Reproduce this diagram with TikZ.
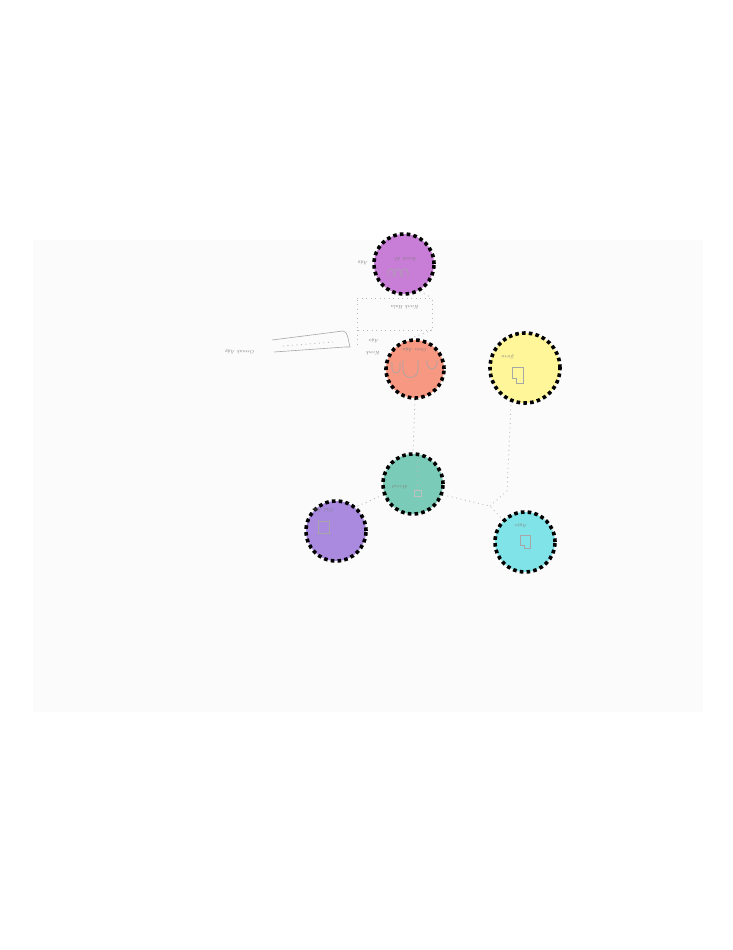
\documentclass[tikz,border=0pt]{standalone}
\begin{document}
\begin{tikzpicture}[x=1pt,y=-1pt,
  person/.style={circle,draw=black,line width=3.6pt,dash pattern=on 3.6pt off 3.2pt,inner sep=0pt,minimum size=#1},
  link/.style={draw=black!28,line width=0.8pt,dash pattern=on 1pt off 3.5pt},
  pencil/.style={draw=black!35,line width=0.6pt},
  hand/.style={text=black!50,font=\tiny\itshape,rotate=180,inner sep=0pt}]
\useasboundingbox (0,0) rectangle (732,950);
\fill[white] (0,0) rectangle (732,950);
\fill[black!1.5] (33,240) rectangle (703,712);

% persons
\node[person=60pt,fill={rgb,255:red,200;green,125;blue,214}] (gm) at (404,264) {};
\node[person=58pt,fill={rgb,255:red,246;green,152;blue,130}] (fa) at (415,369) {};
\node[person=70pt,fill={rgb,255:red,255;green,246;blue,154}] (mo) at (525,368) {};
\node[person=60pt,fill={rgb,255:red,122;green,204;blue,184}] (me) at (413,484) {};
\node[person=60pt,fill={rgb,255:red,170;green,138;blue,222}] (s1) at (336,531) {};
\node[person=60pt,fill={rgb,255:red,128;green,227;blue,232}] (s2) at (525,542) {};

% connectors
\coordinate (j1) at (490,506);
\coordinate (j2) at (507,491);
\coordinate (j0) at (511,405);
\coordinate (b1) at (357,298);
\coordinate (b2) at (432,298);
\coordinate (b3) at (432,330);
\coordinate (b4) at (357,330);
\coordinate (b5) at (357,348);
\draw[link] (fa.south) -- (me.north);
\draw[link] (me.-20) -- (j1) -- (s2.north west);
\draw[link] (j0) -- (j2) -- (j1);
\draw[link] (me.200) -- (s1.50);
\draw[link] (b1) -- (b2) -- (b3) -- (b4) -- (b1);
\draw[link] (b4) -- (b5);
\draw[link] (gm.-60) -- (b2);
\draw[link] (b3) -- (fa.100);
\draw[link] (417,462) -- (417,493);

% bracket
\coordinate (k1) at (272,340);
\coordinate (k2) at (343,331);
\coordinate (k3) at (350,347);
\coordinate (k4) at (274,352);
\draw[pencil] (k1) -- (k2) .. controls (348,331) and (348,340) .. (k3);
\draw[pencil] (k4) -- (345,347) -- (k3);
\draw[link] (283,346) -- (333,342);

% handwriting (upside down)
\node[hand] (t1) at (240,352) {Osmak Ağy};
\node[hand] (t2) at (405,307) {Kıvık Hala};
\node[hand] (t3) at (406,259) {Kıvık M};
\node[hand] (t4) at (363,263) {Ağy};
\node[hand] (t5) at (373,353) {Kıvık};
\node[hand] (t6) at (374,341) {Ağa};
\node[hand] (t7) at (415,350) {Osm Ağa};
\node[hand] (t8) at (508,357) {Şirin};
\node[hand] (t9) at (400,487) {Mesut};
\node[hand] (t10) at (323,510) {Gül Ağa};
\node[hand] (t11) at (521,526) {Ayşe};

% pencil marks inside circles
\draw[pencil] (392,362) -- (392,369) arc (180:360:4pt) -- (400,362);
\draw[pencil] (403,360) -- (403,370) arc (180:360:7.5pt) -- (418,360);
\draw[pencil] (427,360) -- (427,364) arc (180:360:5pt) -- (437,360);
\draw[pencil] (388,277) -- (388,272) arc (180:0:3pt) -- (394,277);
\draw[pencil] (395,277) -- (395,272) arc (180:0:3pt) -- (401,277);
\draw[pencil] (402,277) -- (402,272) arc (180:0:3pt) -- (408,277);
\draw[pencil] (512,367) -- (523,367) -- (523,383) -- (516,383) -- (516,378) -- (512,378) -- cycle;
\draw[pencil] (520,535) -- (530,535) -- (530,548) -- (524,548) -- (524,545) -- (520,545) -- cycle;
\draw[pencil] (318,521) -- (329,521) -- (329,533) -- (318,533) -- cycle;
\draw[pencil,draw=black!25] (414,490) rectangle (421,496);
\end{tikzpicture}
\end{document}
